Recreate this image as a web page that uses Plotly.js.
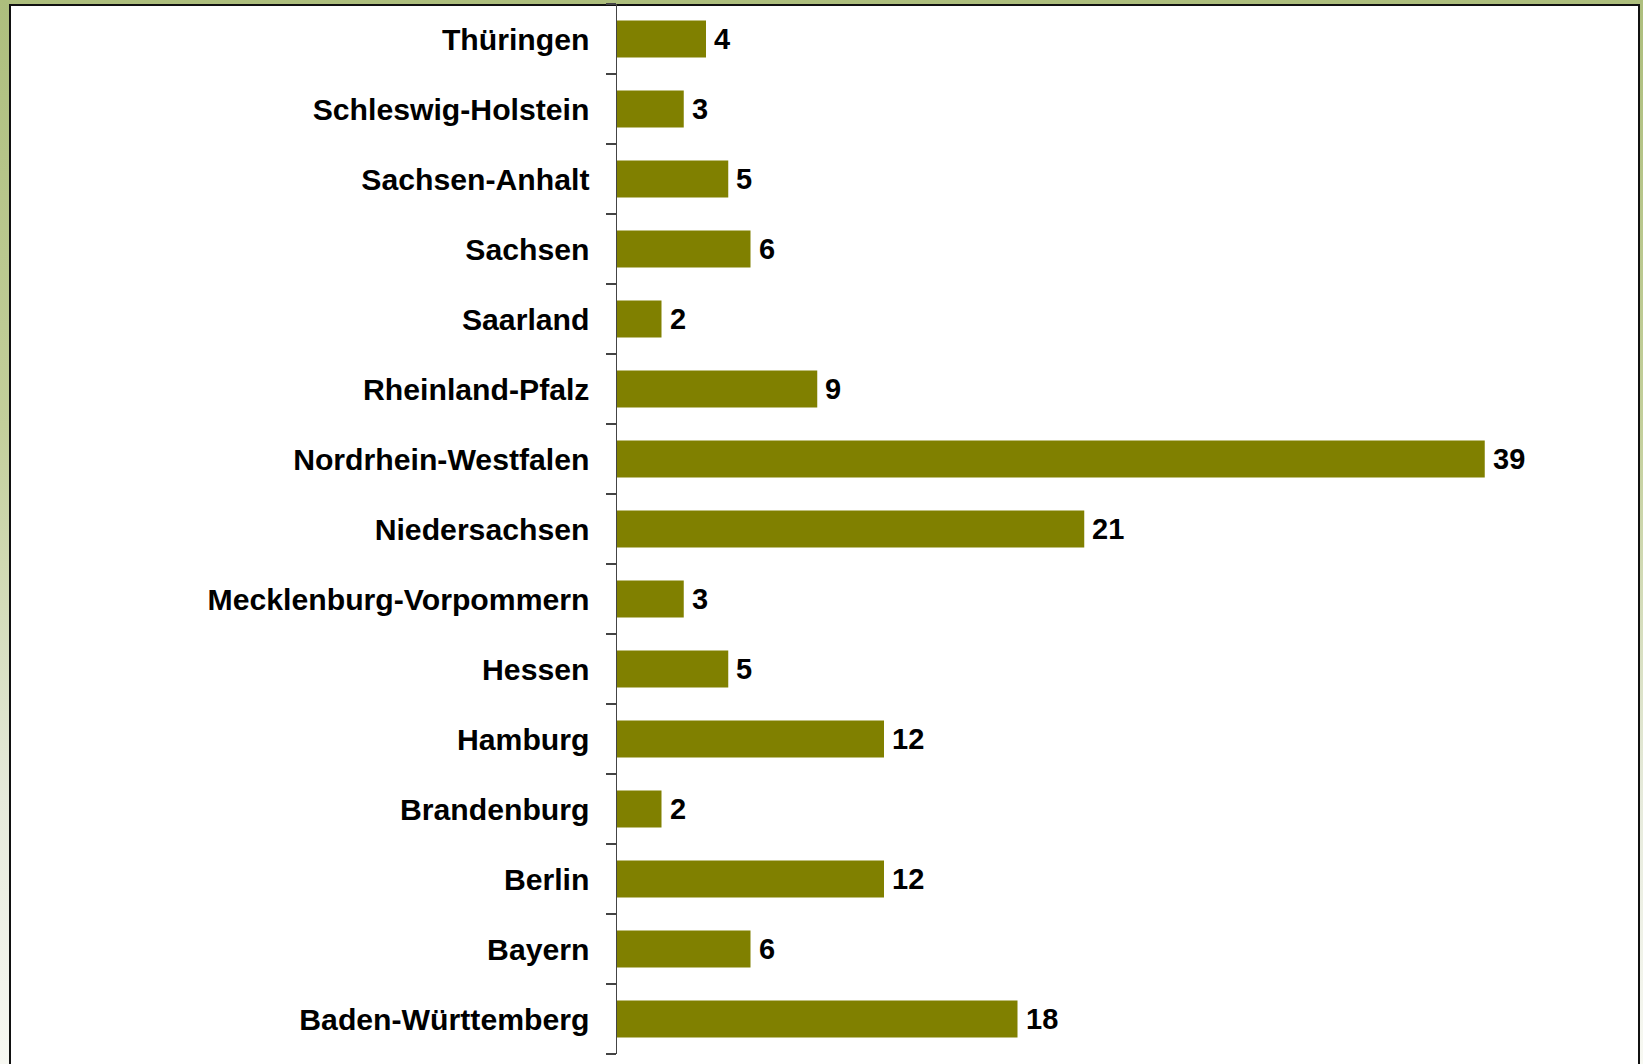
<!DOCTYPE html>
<html>
<head>
<meta charset="utf-8">
<script src="https://cdn.plot.ly/plotly-3.0.1.min.js"></script>
<style>
  html, body { margin: 0; padding: 0; }
  body {
    width: 1643px; height: 1064px; overflow: hidden;
    background: linear-gradient(180deg, #adbe7d 0%, #c3cf9b 40%, #e6eadb 75%, #f7f8f2 100%);
    position: relative;
  }
  #panel {
    position: absolute; left: 9px; top: 4px;
    width: 1631px; height: 1060px;
    box-sizing: border-box;
    border-left: 2px solid #111;
    border-top: 2px solid #111;
    border-right: 2px solid #111;
    background: #fff;
  }
  #chart { position: absolute; left: 0; top: 0; width: 1643px; height: 1064px; }
</style>
</head>
<body>
<div id="panel"></div>
<div id="chart"></div>
<script>
// Categories (bottom to top as drawn)
const states = [
  "Baden-Württemberg", "Bayern", "Berlin", "Brandenburg", "Hamburg", "Hessen",
  "Mecklenburg-Vorpommern", "Niedersachsen", "Nordrhein-Westfalen", "Rheinland-Pfalz",
  "Saarland", "Sachsen", "Sachsen-Anhalt", "Schleswig-Holstein", "Thüringen"
];
const counts = [18, 6, 12, 2, 12, 5, 3, 21, 39, 9, 2, 6, 5, 3, 4];

const barColor = "#808000";
const fontFamily = "Liberation Sans, Arial, Helvetica, sans-serif";

const trace = {
  type: "bar",
  orientation: "h",
  y: states,
  x: counts,
  marker: { color: barColor, line: { width: 0 } },
  hoverinfo: "x+y"
};

const annotations = states.map((s, i) => ({
  x: counts[i],
  y: s,
  xref: "x",
  yref: "y",
  text: String(counts[i]),
  showarrow: false,
  xanchor: "left",
  yanchor: "middle",
  xshift: 6,
  font: { family: fontFamily, size: 29, color: "#000", weight: "bold" }
}));

const layout = {
  width: 1643,
  height: 1064,
  margin: { l: 617, r: 43, t: 4, b: 10, pad: 0 },
  paper_bgcolor: "rgba(0,0,0,0)",
  plot_bgcolor: "rgba(0,0,0,0)",
  showlegend: false,
  bargap: 0.47,
  xaxis: {
    range: [0, 44.18],
    showgrid: false,
    zeroline: false,
    showline: false,
    showticklabels: false,
    ticks: "",
    fixedrange: true
  },
  yaxis: {
    type: "category",
    categoryorder: "array",
    categoryarray: states,
    range: [-0.5, 14.5],
    tickson: "boundaries",
    ticks: "outside",
    ticklen: 10,
    tickwidth: 1.5,
    tickcolor: "#444",
    showline: true,
    linecolor: "#444",
    linewidth: 1.5,
    showgrid: false,
    zeroline: false,
    ticklabelstandoff: 20,
    tickfont: { family: fontFamily, size: 30.2, color: "#000", weight: "bold" },
    fixedrange: true
  },
  annotations: annotations
};

Plotly.newPlot("chart", [trace], layout, { displayModeBar: false, staticPlot: true });
</script>
</body>
</html>
